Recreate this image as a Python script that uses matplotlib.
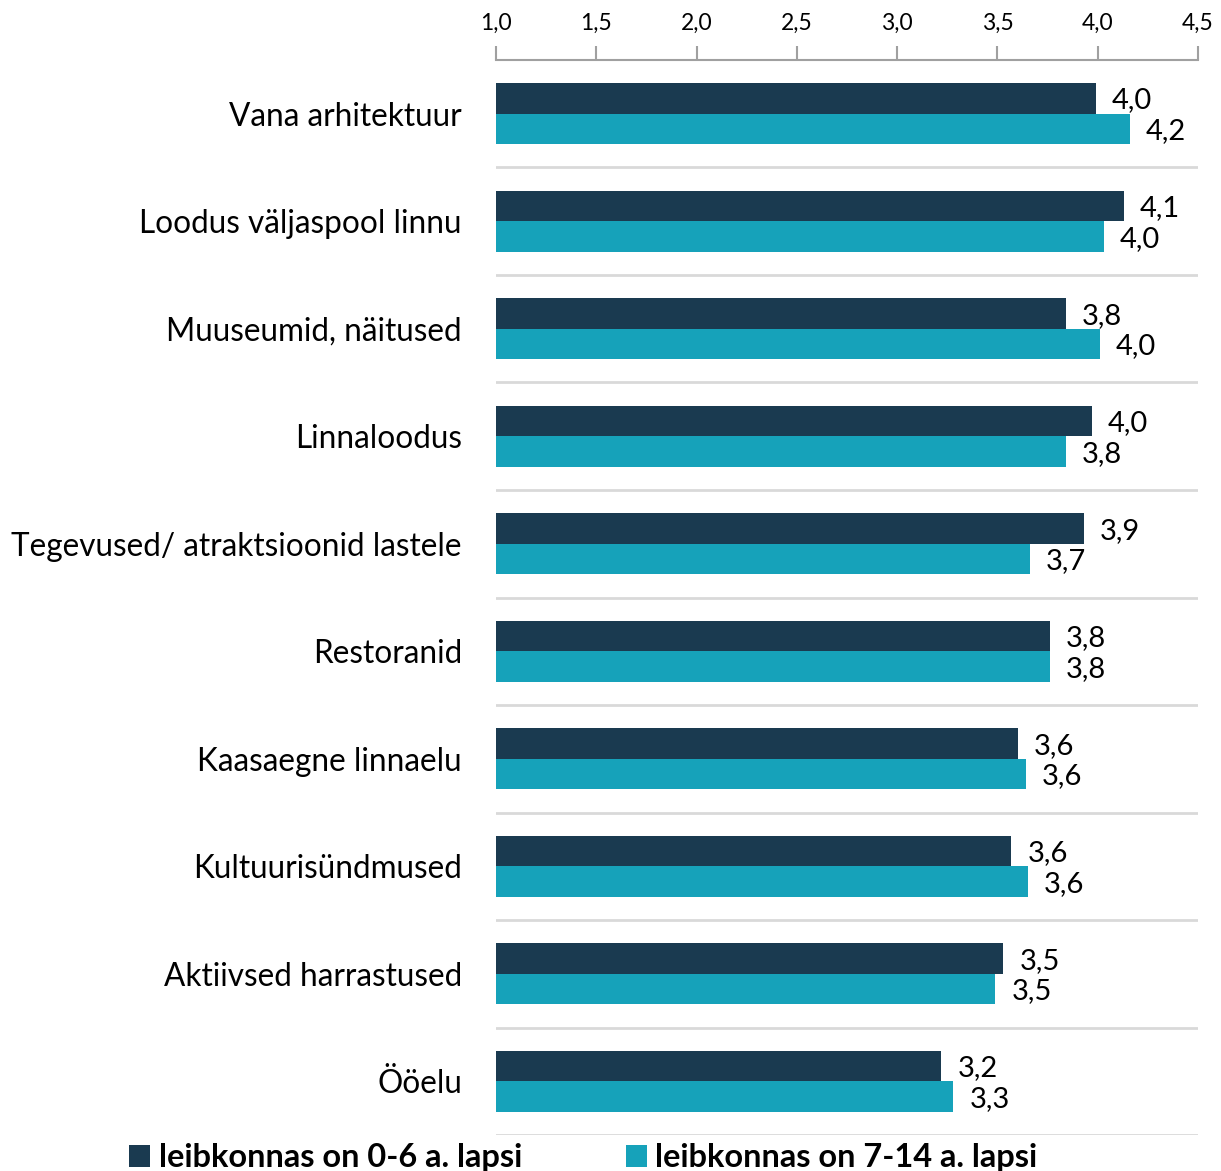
import matplotlib.pyplot as plt
import numpy as np

categories = ["Vana arhitektuur", "Loodus väljaspool linnu", "Muuseumid, näitused",
              "Linnaloodus", "Tegevused/ atraktsioonid lastele", "Restoranid",
              "Kaasaegne linnaelu", "Kultuurisündmused", "Aktiivsed harrastused", "Ööelu"]
small_kids = [3.99, 4.13, 3.84, 3.97, 3.93, 3.76, 3.60, 3.57, 3.53, 3.22]
older_kids = [4.16, 4.03, 4.01, 3.84, 3.66, 3.76, 3.64, 3.65, 3.49, 3.28]
series_names = ["leibkonnas on 0-6 a. lapsi", "leibkonnas on 7-14 a. lapsi"]
xticks = [1.0, 1.5, 2.0, 2.5, 3.0, 3.5, 4.0, 4.5]

dark = "#1A3A50"
light = "#16A2BA"
plt.rcParams['font.family'] = ['Lato', 'DejaVu Sans']

fig = plt.figure(figsize=(12.21, 11.71), dpi=100)
ax = fig.add_axes([0.4062, 0.0307, 0.575, 0.9181])

y = np.arange(len(categories))
h = 0.285
ax.barh(y - h / 2, np.array(small_kids) - 1, h, left=1, color=dark, label=series_names[0])
ax.barh(y + h / 2, np.array(older_kids) - 1, h, left=1, color=light, label=series_names[1])

for i in range(len(categories)):
    ax.text(small_kids[i] + 0.08, y[i] - h / 2 + 0.02, f"{small_kids[i]:.1f}".replace(".", ","),
            va="center", ha="left", fontsize=21)
    ax.text(older_kids[i] + 0.08, y[i] + h / 2 + 0.02, f"{older_kids[i]:.1f}".replace(".", ","),
            va="center", ha="left", fontsize=21)

for b in np.arange(0.5, len(categories), 1.0):
    ax.axhline(b, color="#D9D9D9", lw=2, zorder=0)

ax.set_ylim(len(categories) - 0.5, -0.5)
ax.set_xlim(1.0, 4.5)
ax.set_yticks(y)
ax.set_yticklabels(categories, fontsize=22.7)
ax.tick_params(axis="y", length=0, pad=24.5)
ax.xaxis.tick_top()
ax.set_xticks(xticks)
ax.set_xticklabels([f"{t:.1f}".replace(".", ",") for t in xticks], fontsize=16.5)
ax.tick_params(axis="x", length=10, width=1.5, color="#A0A0A0", pad=9)
for s in ["right", "bottom", "left"]:
    ax.spines[s].set_visible(False)
ax.spines["top"].set_color("#A0A0A0")
ax.spines["top"].set_linewidth(1.5)

fig.legend(loc="lower left", bbox_to_anchor=(0.082, -0.026), ncol=2, frameon=False,
           prop={"size": 23.4, "weight": "bold"}, handlelength=0.65, handleheight=0.65,
           handletextpad=0.25, columnspacing=3.2)

fig.savefig("out.png")
